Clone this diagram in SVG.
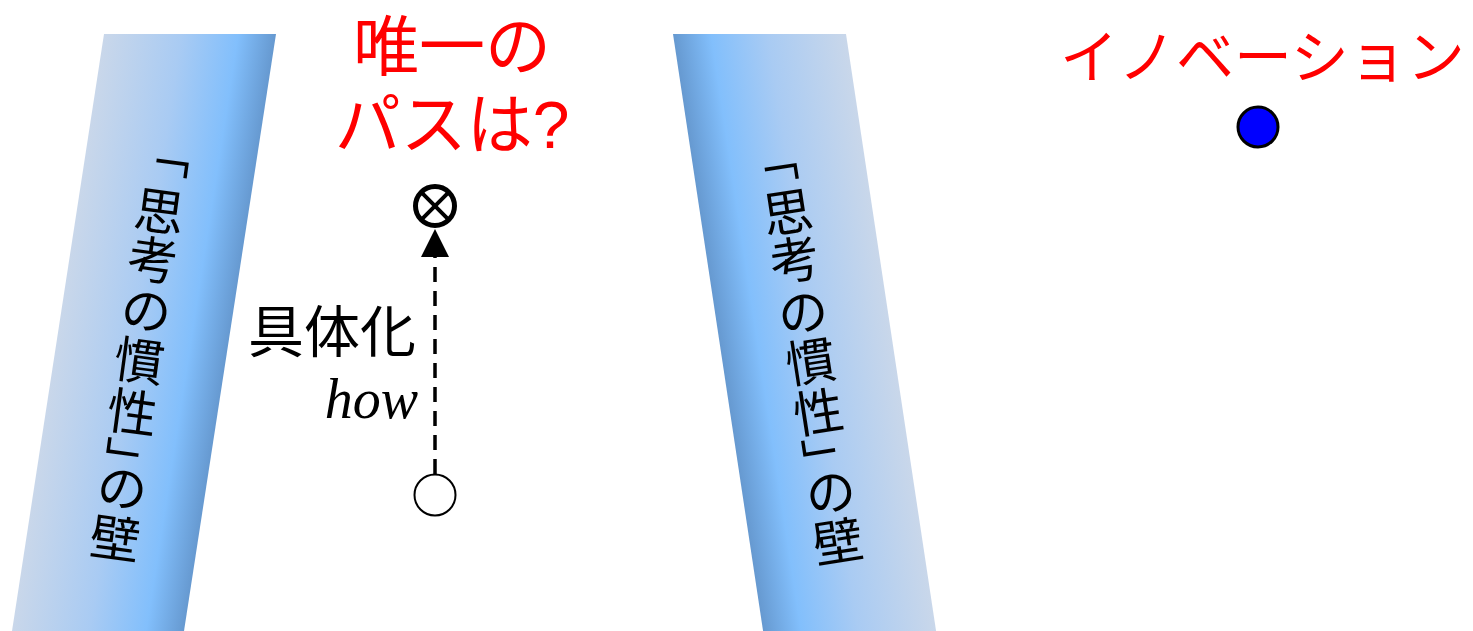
<svg xmlns="http://www.w3.org/2000/svg" width="1473" height="631" viewBox="0 0 1473 631">
<defs>
<linearGradient id="wallL" x1="0" y1="0" x2="1" y2="0">
<stop offset="0" stop-color="#c9d7ea"/>
<stop offset="0.45" stop-color="#a9cbf3"/>
<stop offset="0.78" stop-color="#82bffc"/>
<stop offset="1" stop-color="#6699d0"/>
</linearGradient>
<linearGradient id="wallR" x1="0" y1="0" x2="1" y2="0">
<stop offset="0" stop-color="#6699d0"/>
<stop offset="0.22" stop-color="#82bffc"/>
<stop offset="0.55" stop-color="#a9cbf3"/>
<stop offset="1" stop-color="#c9d7ea"/>
</linearGradient>
</defs>
<style>
.jp{font-family:"Liberation Sans","Noto Sans CJK JP",sans-serif;}
.red{fill:#ff0000;}
.wt{font-family:"Noto Sans CJK JP",sans-serif;font-size:50px;fill:#000;text-anchor:middle;dominant-baseline:central;}
.conn{stroke:#000;stroke-width:3.5;fill:none;}
</style>
<rect width="1473" height="631" fill="#fff"/>

<g id="wall-left">
<g transform="translate(104,34) skewX(-8.76)"><rect width="172" height="597" fill="url(#wallL)"/></g>
<g transform="translate(160,208) rotate(7.7)">
<text class="wt" transform="translate(2.1,-56.1) rotate(90)">「</text>
<text class="wt" x="0" y="0">思</text>
<text class="wt" x="0" y="49">考</text>
<text class="wt" x="0" y="100">の</text>
<text class="wt" x="0" y="151">慣</text>
<text class="wt" x="0" y="203">性</text>
<text class="wt" transform="translate(5.7,257.2) rotate(90)">」</text>
<text class="wt" x="0" y="279">の</text>
<text class="wt" x="0" y="330">壁</text>
</g>
</g>

<g id="wall-right">
<g transform="translate(673,34) skewX(8.58)"><rect width="173" height="597" fill="url(#wallR)"/></g>
<g transform="translate(787,209) rotate(-8.76)">
<text class="wt" transform="translate(-3.9,-51.7) rotate(90)">「</text>
<text class="wt" x="0" y="0">思</text>
<text class="wt" x="0" y="48">考</text>
<text class="wt" x="0" y="101">の</text>
<text class="wt" x="0" y="151">慣</text>
<text class="wt" x="0" y="202">性</text>
<text class="wt" transform="translate(4.7,254.9) rotate(90)">」</text>
<text class="wt" x="0" y="283">の</text>
<text class="wt" x="0" y="333">壁</text>
</g>
</g>

<g id="question">
<text class="jp red" font-size="66" text-anchor="middle" x="452" y="70">唯一の</text>
<text class="jp red" font-size="66" text-anchor="middle" x="452" y="148">パスは?</text>
</g>

<g id="innovation">
<text class="jp red" font-size="58" x="1060" y="78">イノベーション</text>
<circle cx="1258" cy="127" r="20" fill="#0000ff" stroke="#000" stroke-width="3"/>
</g>

<g id="start-node">
<circle cx="435" cy="495" r="20.5" fill="#fff" stroke="#000" stroke-width="2"/>
</g>

<g id="target-node">
<circle cx="435" cy="206" r="19.5" fill="#fff" stroke="#000" stroke-width="5"/>
<path d="M421.2 192.2 L448.8 219.8 M448.8 192.2 L421.2 219.8" stroke="#000" stroke-width="4"/>
</g>

<g id="label">
<text class="jp" font-size="56" text-anchor="end" x="416" y="352">具体化</text>
<text font-family="'Liberation Serif',serif" font-style="italic" font-size="56" text-anchor="end" x="418" y="418">how</text>
</g>

<g id="connectors">
<line class="conn" x1="435" y1="474" x2="435" y2="257" stroke-dasharray="15 9"/>
<polygon points="435,229 421,257 449,257" fill="#000"/>
</g>
</svg>
